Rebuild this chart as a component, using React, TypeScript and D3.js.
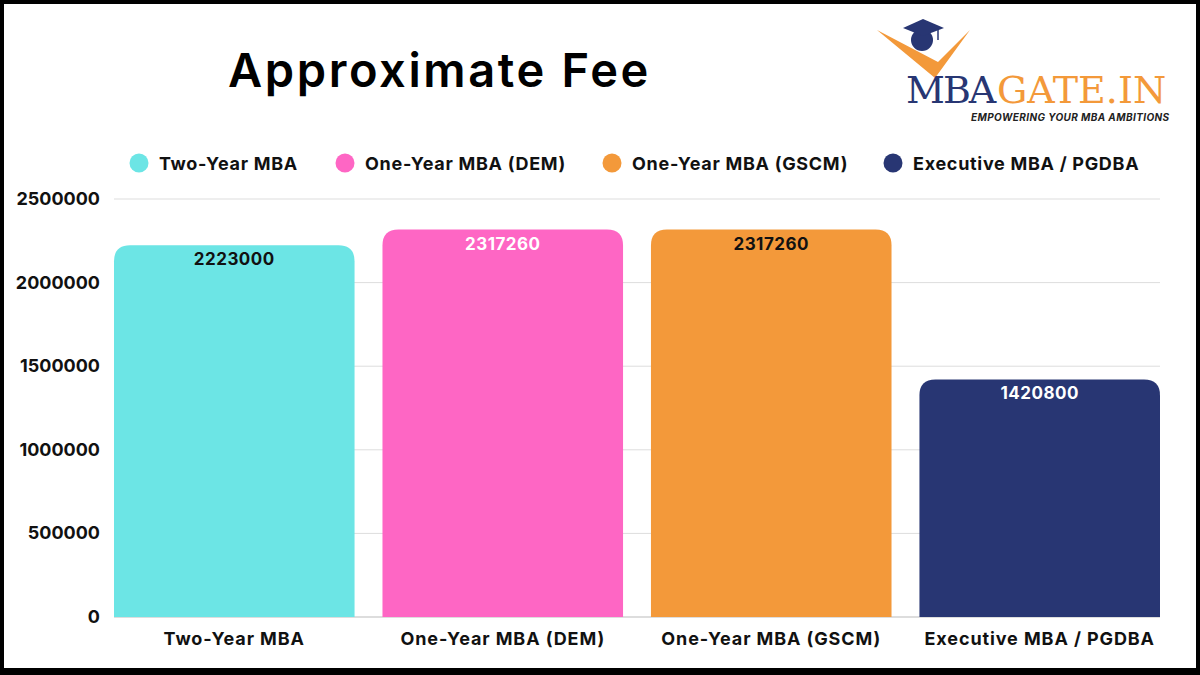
import * as d3 from 'd3';
import React from 'react';

const categories = ['Two-Year MBA', 'One-Year MBA (DEM)', 'One-Year MBA (GSCM)', 'Executive MBA / PGDBA'];
const fees = [2223000, 2317260, 2317260, 1420800];
const barColors = ['#6ce5e5', '#fe66c4', '#f3993a', '#283673'];
const labelColors = ['#111111', '#ffffff', '#111111', '#ffffff'];
const yTicks = [0, 500000, 1000000, 1500000, 2000000, 2500000];
const legendX = [139, 345, 612, 893];

const W = 1200;
const H = 675;
const FONT = 'Inter, "Open Sans", sans-serif';

const margin = { top: 199, right: 40, bottom: 58, left: 114 };

// bar with rounded top corners only
function topRoundedRect(x: number, y: number, w: number, h: number, r: number) {
    const rr = Math.min(r, h, w / 2);
    return `M${x},${y + h}V${y + rr}Q${x},${y} ${x + rr},${y}H${x + w - rr}Q${x + w},${y} ${x + w},${y + rr}V${y + h}Z`;
}

const App: React.FC = () => {
    const x = d3.scaleBand<string>()
        .domain(categories)
        .range([margin.left, 1160])
        .paddingInner(0.104)
        .paddingOuter(0);

    const y = d3.scaleLinear()
        .domain([0, 2500000])
        .range([617, margin.top]);

    return (
        <svg width={W} height={H} style={{ position: 'absolute', left: 0, top: 0, display: 'block' }}>
            <rect x={0} y={0} width={W} height={H} fill="#000" />
            <rect x={4} y={4} width={W - 8} height={H - 11} fill="#fff" />

            {/* Title */}
            <text x={228} y={87} fontFamily={FONT} fontSize={47} fontWeight={600} fill="#000" letterSpacing={2.6}>Approximate Fee</text>

            {/* Logo */}
            <g>
                <path d="M877,30 L935,78 L970,30 L938,62 Z" fill="#f3993a" />
                <circle cx={922} cy={40} r={11} fill="#283673" />
                <path d="M903,28 L923,19 L944,28 L923,36 Z" fill="#283673" />
                <path d="M938,29 L938,40" stroke="#283673" strokeWidth={1.5} />
                <text x={906} y={103} fontFamily='"DejaVu Serif", "Liberation Serif", serif' fontSize={38} fill="#283673" letterSpacing={-2}>MBA</text>
                <text x={997} y={103} fontFamily='"DejaVu Serif", "Liberation Serif", serif' fontSize={38} fill="#f3993a" letterSpacing={0}>GATE.IN</text>
                <text x={971} y={121} fontFamily={FONT} fontSize={10} fontWeight={700} fontStyle="italic" fill="#222" letterSpacing={0.4}>EMPOWERING YOUR MBA AMBITIONS</text>
            </g>

            {/* Legend */}
            {categories.map((c, i) => (
                <g key={c}>
                    <circle cx={legendX[i]} cy={163} r={9.5} fill={barColors[i]} />
                    <text x={legendX[i] + 20} y={169.5} fontFamily={FONT} fontSize={18} fontWeight={700} fill="#111" letterSpacing={0.7}>{c}</text>
                </g>
            ))}

            {/* Grid */}
            {yTicks.map(t => (
                <g key={t}>
                    <line x1={margin.left} x2={1160} y1={y(t)} y2={y(t)} stroke={t === 0 ? '#bbbbbb' : '#dddddd'} strokeWidth={1} />
                    <text x={100} y={y(t) + 6} textAnchor="end" fontFamily={FONT} fontSize={18} fontWeight={700} fill="#111">{t}</text>
                </g>
            ))}

            {/* Bars */}
            {categories.map((c, i) => {
                const bx = x(c)!;
                const by = y(fees[i]);
                return (
                    <g key={c}>
                        <path d={topRoundedRect(bx, by, x.bandwidth(), y(0) - by, 16)} fill={barColors[i]} />
                        <text x={bx + x.bandwidth() / 2} y={by + 20} textAnchor="middle" fontFamily={FONT} fontSize={17} fontWeight={700} fill={labelColors[i]} letterSpacing={0.5}>{fees[i]}</text>
                        <text x={bx + x.bandwidth() / 2} y={645} textAnchor="middle" fontFamily={FONT} fontSize={18} fontWeight={700} fill="#111" letterSpacing={0.9}>{c}</text>
                    </g>
                );
            })}
        </svg>
    );
};

export default App;
